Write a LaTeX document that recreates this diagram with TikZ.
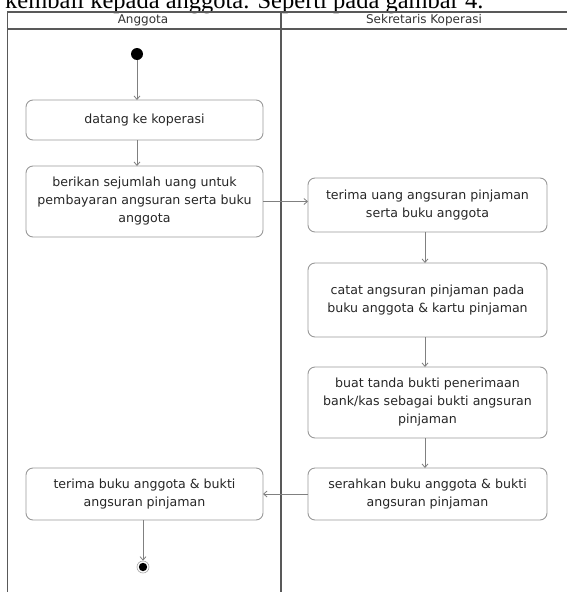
\documentclass[tikz,border=0pt]{standalone}
\usepackage{fontspec}
\setmainfont{DejaVu Sans}
\newfontfamily\runningtext{Liberation Serif}
\usetikzlibrary{arrows.meta}
\begin{document}
\begin{tikzpicture}[x=1pt,y=-1pt,
  lane/.style={draw=black!65,line width=1.4pt},
  act/.style={draw=black!40,line width=0.9pt,rounded corners=7pt,align=center,
    font=\fontsize{12.6}{18}\selectfont,text=black!85,inner sep=0pt,outer sep=0pt},
  leftact/.style={act,minimum width=237pt},
  rightact/.style={act,minimum width=239pt},
  flow/.style={draw=black!50,line width=0.8pt,-{Straight Barb[length=3.5pt,width=6pt]}},
  lanetitle/.style={font=\fontsize{12}{14}\selectfont,text=black!80,inner sep=0pt}]
\useasboundingbox (0,0) rectangle (567,592);
\clip (0,0) rectangle (567,592);

% line of body text above the figure
\node[anchor=base west,inner sep=0pt] (caption) at (5,8)
  {\runningtext\fontsize{24.5}{28}\selectfont kembali kepada anggota. Seperti pada gambar 4.};

% swimlane frame
\draw[lane] (7.5,600) -- (7.5,12) -- (575,12);
\draw[lane] (7.5,29) -- (575,29);
\draw[lane] (281,12) -- (281,600);
\node[lanetitle] (laneA) at (143,20.5) {Anggota};
\node[lanetitle] (laneB) at (424,20.5) {Sekretaris Koperasi};

% start and end
\node[circle,fill=black,minimum size=12pt,inner sep=0pt] (start) at (137,54) {};
\node[circle,draw=black!35,line width=0.6pt,minimum size=12pt,inner sep=0pt] (end) at (143,567) {};
\fill[black] (end.center) circle[radius=4.2pt];

% activities
\node[leftact,minimum height=40pt] (b1) at (144.5,120) {datang ke koperasi};
\node[leftact,minimum height=71pt] (b2) at (144.5,201.5)
  {berikan sejumlah uang untuk\\pembayaran angsuran serta buku\\anggota};
\node[rightact,minimum height=54pt] (b3) at (427.5,205)
  {terima uang angsuran pinjaman\\serta buku anggota};
\node[rightact,minimum height=74pt] (b4) at (427.5,300)
  {catat angsuran pinjaman pada\\buku anggota \& kartu pinjaman};
\node[rightact,minimum height=71pt] (b5) at (427.5,402.5)
  {buat tanda bukti penerimaan\\bank/kas sebagai bukti angsuran\\pinjaman};
\node[rightact,minimum height=52pt] (b6) at (427.5,494)
  {serahkan buku anggota \& bukti\\angsuran pinjaman};
\node[leftact,minimum height=52pt] (b7) at (144.5,494)
  {terima buku anggota \& bukti\\angsuran pinjaman};

% control flow
\draw[flow] (start) -- (start |- b1.north);
\draw[flow] (b1.south -| start) -- (start |- b2.north);
\draw[flow] (b2.east) -- (b2.east -| b3.west);
\draw[flow] (b3.south -| 425,0) -- (b4.north -| 425,0);
\draw[flow] (b4.south -| 425,0) -- (b5.north -| 425,0);
\draw[flow] (b5.south -| 425,0) -- (b6.north -| 425,0);
\draw[flow] (b6.west) -- (b6.west -| b7.east);
\draw[flow] (b7.south -| end) -- (end.north);
\end{tikzpicture}
\end{document}
